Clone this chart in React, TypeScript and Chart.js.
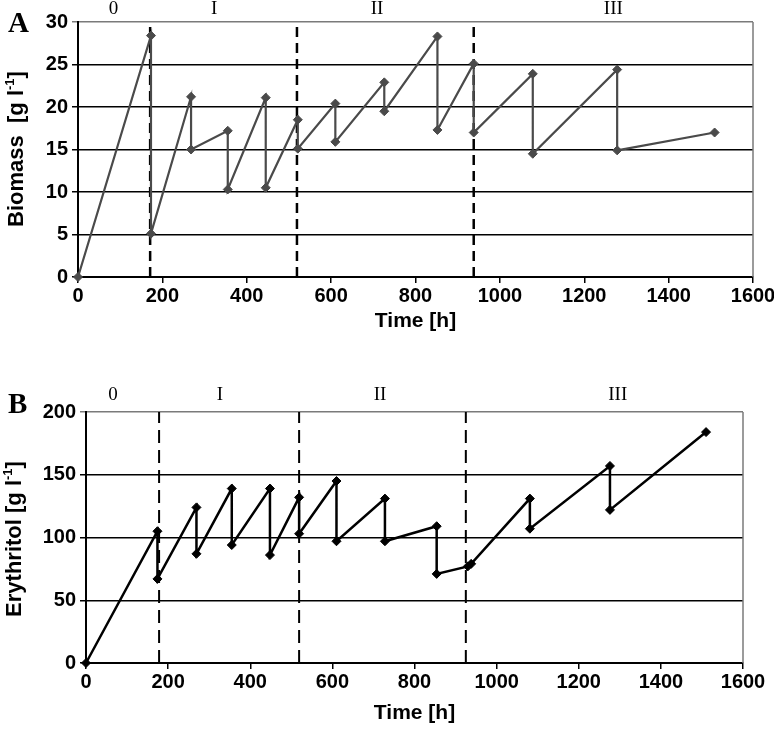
import React, { useEffect, useRef } from "react";
import { Chart, registerables } from "chart.js";
Chart.register(...registerables);

// ---- Data (panel A: biomass) ----
const biomassTime = [0, 173, 173, 268, 268, 355, 355, 445, 445, 521, 521, 610, 610, 726, 726, 852, 852, 938, 938, 1078, 1078, 1278, 1278, 1509];
const biomassValues = [0, 28.4, 5.1, 21.2, 15.0, 17.2, 10.3, 21.1, 10.5, 18.5, 15.1, 20.4, 15.9, 22.9, 19.5, 28.3, 17.3, 25.1, 17.0, 23.9, 14.5, 24.4, 14.9, 17.0];
const biomassPhaseBounds = [171, 519, 938];
const biomassPhaseLabelPos = [84, 323, 709, 1269];

// ---- Data (panel B: erythritol) ----
const erythritolTime = [0, 174, 174, 269, 269, 355, 355, 448, 448, 519, 519, 610, 610, 728, 728, 854, 854, 930, 938, 1081, 1081, 1276, 1276, 1510];
const erythritolValues = [0, 105, 67, 124, 87, 139, 94, 139, 86, 132, 103, 145, 97, 131, 97, 109, 71, 77, 79, 131, 107, 157, 122, 184];
const erythritolPhaseBounds = [178, 519, 925];
const erythritolPhaseLabelPos = [66, 326, 716, 1295];

const phaseLabels = ["0", "I", "II", "III"];
const xTicksMax = 1600;
const xStep = 200;
const biomassMax = 30;
const biomassStep = 5;
const erythritolMax = 200;
const erythritolStep = 50;

const SANS = '"Liberation Sans", Arial, sans-serif';
const SERIF = '"Liberation Serif", "Times New Roman", serif';

const decorPlugin = {
  id: "decor",
  afterDraw(chart: any, _args: any, o: any) {
    const { ctx, chartArea, scales } = chart;
    ctx.save();
    // right border
    ctx.strokeStyle = "#7a7a7a";
    ctx.lineWidth = 1.5;
    ctx.beginPath();
    ctx.moveTo(chartArea.right, chartArea.top);
    ctx.lineTo(chartArea.right, chartArea.bottom);
    ctx.stroke();

    ctx.fillStyle = "#000";
    // panel letter
    ctx.font = `bold 29px ${SERIF}`;
    ctx.textAlign = "left";
    ctx.textBaseline = "alphabetic";
    ctx.fillText(o.letter, o.letterX, o.letterY);

    // phase labels
    ctx.font = `19px ${SERIF}`;
    ctx.textAlign = "center";
    ctx.textBaseline = "middle";
    o.phasePos.forEach((p: number, i: number) => {
      ctx.fillText(phaseLabels[i], scales.x.getPixelForValue(p), o.phaseY);
    });

    // x title
    ctx.font = `bold 21px ${SANS}`;
    ctx.fillText("Time [h]", (chartArea.left + chartArea.right) / 2, o.xTitleY);

    // y title (rotated, with superscript)
    const mainFont = `bold 22px ${SANS}`;
    const supFont = `bold 13px ${SANS}`;
    ctx.font = mainFont;
    const w1 = ctx.measureText(o.yTitle).width;
    const w3 = ctx.measureText("]").width;
    ctx.font = supFont;
    const w2 = ctx.measureText("-1").width;
    const total = w1 + w2 + w3;
    ctx.translate(o.yTitleX, o.yTitleY);
    ctx.rotate(-Math.PI / 2);
    ctx.textAlign = "left";
    let x = -total / 2;
    ctx.font = mainFont;
    ctx.fillText(o.yTitle, x, 0);
    x += w1;
    ctx.font = supFont;
    ctx.fillText("-1", x, -7);
    x += w2;
    ctx.font = mainFont;
    ctx.fillText("]", x, 0);
    ctx.restore();
  },
};

type PanelProps = {
  times: number[];
  values: number[];
  bounds: number[];
  yMax: number;
  yStep: number;
  color: string;
  lineWidth: number;
  pointRadius: number;
  dash: number[];
  dashWidth: number;
  height: number;
  top: number;
  plotLeft: number;
  plotRight: number;
  plotTop: number;
  plotBottom: number;
  decor: any;
};

function Panel(p: PanelProps) {
  const ref = useRef<HTMLCanvasElement>(null);
  useEffect(() => {
    if (!ref.current) return;
    const series = p.times.map((t, i) => ({ x: t, y: p.values[i] }));
    const dashSets = p.bounds.map((b) => ({
      data: [
        { x: b, y: 0 },
        { x: b, y: p.yMax },
      ],
      borderColor: "#000",
      borderWidth: p.dashWidth,
      borderDash: p.dash,
      pointRadius: 0,
      fill: false,
    }));
    const chart = new Chart(ref.current, {
      type: "line",
      data: {
        datasets: [
          {
            data: series,
            borderColor: p.color,
            backgroundColor: p.color,
            borderWidth: p.lineWidth,
            pointStyle: "rectRot",
            pointRadius: p.pointRadius,
            pointBorderWidth: 1,
            pointBorderColor: p.color,
            pointBackgroundColor: p.color,
            tension: 0,
            fill: false,
            clip: false,
          },
          ...dashSets,
        ] as any,
      },
      plugins: [decorPlugin],
      options: {
        responsive: false,
        animation: false,
        devicePixelRatio: 1,
        layout: {
          padding: { top: p.plotTop, right: 774 - p.plotRight, left: 0, bottom: 0 },
        },
        plugins: {
          legend: { display: false },
          tooltip: { enabled: false },
          decor: p.decor,
        } as any,
        scales: {
          x: {
            type: "linear",
            min: 0,
            max: xTicksMax,
            afterFit: (s: any) => {
              s.height = p.height - p.plotBottom;
              s.paddingLeft = 0;
              s.paddingRight = 0;
              s.paddingTop = 0;
              s.paddingBottom = 0;
            },
            ticks: {
              stepSize: xStep,
              color: "#000",
              font: { family: SANS, size: 20, weight: "bold" },
              padding: 1,
              maxRotation: 0,
              autoSkip: false,
              callback: (v: any) => String(v),
            },
            grid: {
              drawOnChartArea: false,
              drawTicks: true,
              tickLength: 6,
              color: "#000",
              lineWidth: 1.5,
            },
            border: { color: "#000", width: 2 },
          },
          y: {
            min: 0,
            max: p.yMax,
            afterFit: (s: any) => {
              s.width = p.plotLeft;
              s.paddingLeft = 0;
              s.paddingRight = 0;
              s.paddingTop = 0;
              s.paddingBottom = 0;
            },
            ticks: {
              stepSize: p.yStep,
              color: "#000",
              font: { family: SANS, size: 20, weight: "bold" },
              padding: 4,
              callback: (v: any) => String(v),
            },
            grid: {
              color: (c: any) => (c.tick && c.tick.value === p.yMax ? "#7a7a7a" : "#000"),
              lineWidth: 1.5,
              tickLength: 6,
            },
            border: { color: "#000", width: 2 },
          },
        },
      } as any,
    });
    return () => chart.destroy();
  }, []);
  return (
    <canvas
      ref={ref}
      width={774}
      height={p.height}
      style={{ position: "absolute", left: 0, top: p.top, width: 774, height: p.height }}
    />
  );
}

export default function App() {
  return (
    <div style={{ position: "absolute", left: 0, top: 0, width: 774, height: 732, background: "#fff" }}>
      <Panel
        times={biomassTime}
        values={biomassValues}
        bounds={biomassPhaseBounds}
        yMax={biomassMax}
        yStep={biomassStep}
        color="#4a4a4a"
        lineWidth={2.2}
        pointRadius={4.5}
        dash={[10, 6]}
        dashWidth={2.5}
        height={345}
        top={0}
        plotLeft={78}
        plotRight={753}
        plotTop={22}
        plotBottom={277}
        decor={{ letter: "A", letterX: 8, letterY: 32, phasePos: biomassPhaseLabelPos, phaseY: 9, xTitleY: 321, yTitle: "Biomass  [g l", yTitleX: 17, yTitleY: 149 }}
      />
      <Panel
        times={erythritolTime}
        values={erythritolValues}
        bounds={erythritolPhaseBounds}
        yMax={erythritolMax}
        yStep={erythritolStep}
        color="#000"
        lineWidth={2.5}
        pointRadius={4.5}
        dash={[13, 7]}
        dashWidth={2}
        height={352}
        top={380}
        plotLeft={86}
        plotRight={743}
        plotTop={32}
        plotBottom={283}
        decor={{ letter: "B", letterX: 8, letterY: 33, phasePos: erythritolPhaseLabelPos, phaseY: 15, xTitleY: 333, yTitle: "Erythritol [g l", yTitleX: 15, yTitleY: 159 }}
      />
    </div>
  );
}
